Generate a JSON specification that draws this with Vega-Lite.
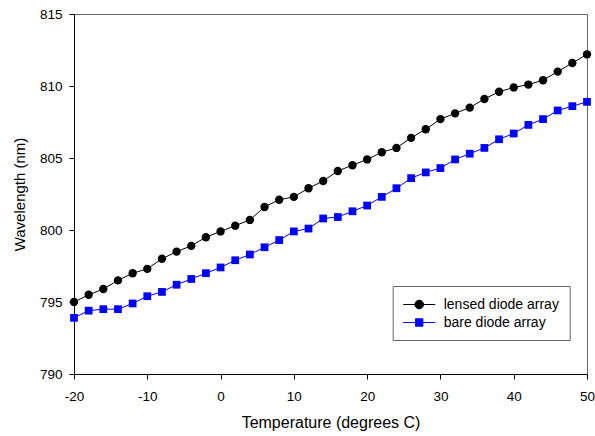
{
  "$schema": "https://vega.github.io/schema/vega-lite/v6.json",
  "width": 513,
  "height": 360,
  "autosize": {"type": "none"},
  "padding": {"left": 74, "top": 14, "right": 8, "bottom": 62},
  "config": {
    "font": "Liberation Sans",
    "view": {"stroke": "#666666", "strokeWidth": 1},
    "axis": {"grid": false, "domainColor": "#000000", "tickColor": "#000000", "labelColor": "#000000", "titleColor": "#000000", "labelFont": "Liberation Sans", "titleFont": "Liberation Sans", "titleFontWeight": "normal", "tickSize": 5, "labelFontSize": 13.5}
  },
  "datasets": {
    "d": [
      {"T": -20, "wl": 795.0, "series": "lensed diode array"},
      {"T": -18, "wl": 795.5, "series": "lensed diode array"},
      {"T": -16, "wl": 795.9, "series": "lensed diode array"},
      {"T": -14, "wl": 796.5, "series": "lensed diode array"},
      {"T": -12, "wl": 797.0, "series": "lensed diode array"},
      {"T": -10, "wl": 797.3, "series": "lensed diode array"},
      {"T": -8, "wl": 798.0, "series": "lensed diode array"},
      {"T": -6, "wl": 798.5, "series": "lensed diode array"},
      {"T": -4, "wl": 798.9, "series": "lensed diode array"},
      {"T": -2, "wl": 799.5, "series": "lensed diode array"},
      {"T": 0, "wl": 799.9, "series": "lensed diode array"},
      {"T": 2, "wl": 800.3, "series": "lensed diode array"},
      {"T": 4, "wl": 800.7, "series": "lensed diode array"},
      {"T": 6, "wl": 801.6, "series": "lensed diode array"},
      {"T": 8, "wl": 802.1, "series": "lensed diode array"},
      {"T": 10, "wl": 802.3, "series": "lensed diode array"},
      {"T": 12, "wl": 802.9, "series": "lensed diode array"},
      {"T": 14, "wl": 803.4, "series": "lensed diode array"},
      {"T": 16, "wl": 804.1, "series": "lensed diode array"},
      {"T": 18, "wl": 804.5, "series": "lensed diode array"},
      {"T": 20, "wl": 804.9, "series": "lensed diode array"},
      {"T": 22, "wl": 805.4, "series": "lensed diode array"},
      {"T": 24, "wl": 805.7, "series": "lensed diode array"},
      {"T": 26, "wl": 806.4, "series": "lensed diode array"},
      {"T": 28, "wl": 807.0, "series": "lensed diode array"},
      {"T": 30, "wl": 807.7, "series": "lensed diode array"},
      {"T": 32, "wl": 808.1, "series": "lensed diode array"},
      {"T": 34, "wl": 808.5, "series": "lensed diode array"},
      {"T": 36, "wl": 809.1, "series": "lensed diode array"},
      {"T": 38, "wl": 809.6, "series": "lensed diode array"},
      {"T": 40, "wl": 809.9, "series": "lensed diode array"},
      {"T": 42, "wl": 810.1, "series": "lensed diode array"},
      {"T": 44, "wl": 810.4, "series": "lensed diode array"},
      {"T": 46, "wl": 811.0, "series": "lensed diode array"},
      {"T": 48, "wl": 811.6, "series": "lensed diode array"},
      {"T": 50, "wl": 812.2, "series": "lensed diode array"},
      {"T": -20, "wl": 793.9, "series": "bare diode array"},
      {"T": -18, "wl": 794.4, "series": "bare diode array"},
      {"T": -16, "wl": 794.5, "series": "bare diode array"},
      {"T": -14, "wl": 794.5, "series": "bare diode array"},
      {"T": -12, "wl": 794.9, "series": "bare diode array"},
      {"T": -10, "wl": 795.4, "series": "bare diode array"},
      {"T": -8, "wl": 795.7, "series": "bare diode array"},
      {"T": -6, "wl": 796.2, "series": "bare diode array"},
      {"T": -4, "wl": 796.6, "series": "bare diode array"},
      {"T": -2, "wl": 797.0, "series": "bare diode array"},
      {"T": 0, "wl": 797.4, "series": "bare diode array"},
      {"T": 2, "wl": 797.9, "series": "bare diode array"},
      {"T": 4, "wl": 798.3, "series": "bare diode array"},
      {"T": 6, "wl": 798.8, "series": "bare diode array"},
      {"T": 8, "wl": 799.3, "series": "bare diode array"},
      {"T": 10, "wl": 799.9, "series": "bare diode array"},
      {"T": 12, "wl": 800.1, "series": "bare diode array"},
      {"T": 14, "wl": 800.8, "series": "bare diode array"},
      {"T": 16, "wl": 800.9, "series": "bare diode array"},
      {"T": 18, "wl": 801.3, "series": "bare diode array"},
      {"T": 20, "wl": 801.7, "series": "bare diode array"},
      {"T": 22, "wl": 802.3, "series": "bare diode array"},
      {"T": 24, "wl": 802.9, "series": "bare diode array"},
      {"T": 26, "wl": 803.6, "series": "bare diode array"},
      {"T": 28, "wl": 804.0, "series": "bare diode array"},
      {"T": 30, "wl": 804.3, "series": "bare diode array"},
      {"T": 32, "wl": 804.9, "series": "bare diode array"},
      {"T": 34, "wl": 805.3, "series": "bare diode array"},
      {"T": 36, "wl": 805.7, "series": "bare diode array"},
      {"T": 38, "wl": 806.3, "series": "bare diode array"},
      {"T": 40, "wl": 806.7, "series": "bare diode array"},
      {"T": 42, "wl": 807.3, "series": "bare diode array"},
      {"T": 44, "wl": 807.7, "series": "bare diode array"},
      {"T": 46, "wl": 808.3, "series": "bare diode array"},
      {"T": 48, "wl": 808.6, "series": "bare diode array"},
      {"T": 50, "wl": 808.9, "series": "bare diode array"}
    ]
  },
  "data": {"name": "d"},
  "encoding": {
    "x": {
      "field": "T", "type": "quantitative",
      "scale": {"domain": [-20, 50], "nice": false, "zero": false},
      "axis": {"values": [-20, -10, 0, 10, 20, 30, 40, 50], "labelExpr": "toString(datum.value)", "title": "Temperature (degrees C)", "titleFontSize": 16, "labelPadding": 10, "titlePadding": 12, "labelFlush": false}
    },
    "y": {
      "field": "wl", "type": "quantitative",
      "scale": {"domain": [790, 815], "nice": false, "zero": false},
      "axis": {"values": [790, 795, 800, 805, 810, 815], "title": "Wavelength (nm)", "titleFontSize": 15, "labelPadding": 7, "titlePadding": 12}
    },
    "color": {
      "field": "series", "type": "nominal",
      "scale": {"domain": ["lensed diode array", "bare diode array"], "range": ["#000000", "#0000ff"]},
      "legend": {
        "title": null,
        "orient": "none",
        "legendX": 318.7,
        "legendY": 272,
        "padding": 10,
        "strokeColor": "#666666",
        "fillColor": "#ffffff",
        "labelFontSize": 14,
        "labelFont": "Liberation Sans",
        "labelColor": "#000000",
        "symbolSize": 256,
        "labelOffset": 24,
        "rowPadding": 2,
        "encode": {
          "symbols": {
            "update": {
              "shape": {"signal": "datum.value === 'lensed diode array' ? 'M-1,0H3M1.54,0A0.54,0.54,0,1,1,0.46,0A0.54,0.54,0,1,1,1.54,0Z' : 'M-1,0H3M0.54,-0.46H1.46V0.46H0.54Z'"},
              "fill": {"signal": "datum.value === 'lensed diode array' ? '#000000' : '#0000ff'"},
              "stroke": {"signal": "datum.value === 'lensed diode array' ? '#000000' : '#0000ff'"},
              "strokeWidth": {"value": 1},
              "opacity": {"value": 1},
              "fillOpacity": {"value": 1}
            }
          }
        }
      }
    }
  },
  "layer": [
    {"mark": {"type": "line", "strokeWidth": 1}},
    {
      "transform": [{"filter": "datum.series === 'lensed diode array'"}],
      "mark": {"type": "point", "filled": true, "opacity": 1, "size": 70, "shape": "circle"}
    },
    {
      "transform": [{"filter": "datum.series === 'bare diode array'"}],
      "mark": {"type": "point", "filled": true, "opacity": 1, "size": 60, "shape": "square"}
    }
  ]
}
